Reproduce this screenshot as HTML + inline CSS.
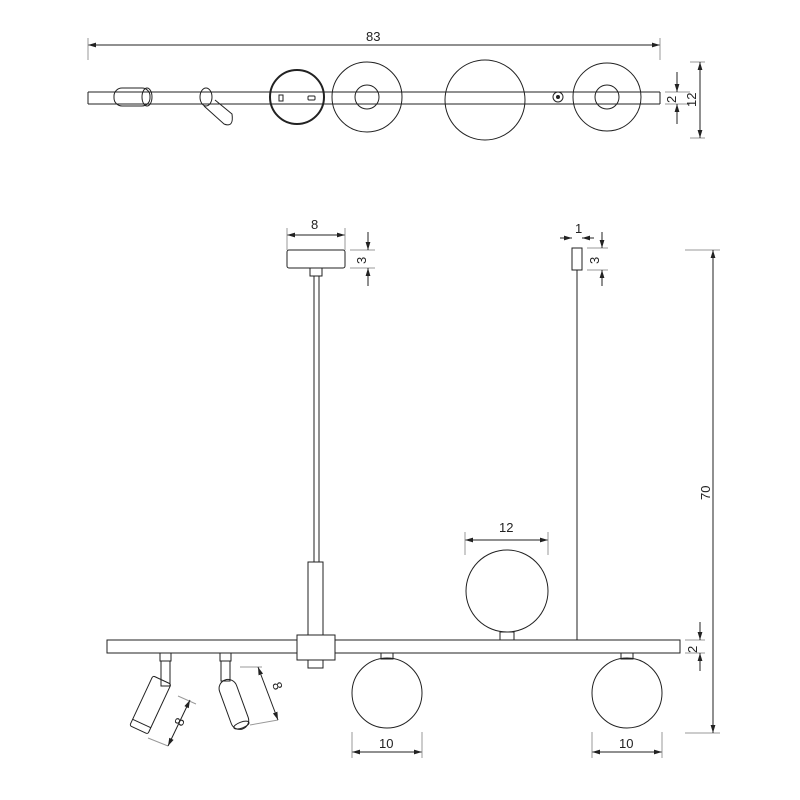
<!DOCTYPE html><html><head><style>body{margin:0;background:#fff}svg{display:block}text{font-family:"Liberation Sans",sans-serif;font-size:13px;fill:#222;stroke:none}</style></head><body>
<svg width="800" height="800" viewBox="0 0 800 800" fill="none" stroke="#222" stroke-width="1">
<defs><marker id="a" viewBox="0 0 10 10" refX="10" refY="5" markerWidth="8" markerHeight="8" orient="auto-start-reverse"><path d="M0,2L10,5L0,8z" fill="#222" stroke="none"/></marker></defs>
<line x1="88" y1="45" x2="660" y2="45" marker-start="url(#a)" marker-end="url(#a)"/>
<line x1="88" y1="38" x2="88" y2="60" stroke="#999"/><line x1="660" y1="38" x2="660" y2="60" stroke="#999"/>
<text x="366" y="41">83</text>
<circle cx="367" cy="97" r="35"/><circle cx="367" cy="97" r="12"/>
<circle cx="607" cy="97" r="34"/><circle cx="607" cy="97" r="12"/>
<circle cx="485" cy="100" r="40"/>
<circle cx="297" cy="97" r="27" stroke-width="2"/>
<line x1="88" y1="92" x2="660" y2="92"/><line x1="88" y1="104" x2="660" y2="104"/><line x1="88" y1="92" x2="88" y2="104"/><line x1="660" y1="92" x2="660" y2="104"/>
<rect x="279" y="95" width="4" height="6"/><rect x="308" y="96" width="7" height="4" rx="1"/>
<circle cx="558" cy="97" r="5"/><circle cx="558" cy="97" r="1.5" fill="#222"/>
<rect x="114" y="88" width="36" height="18" rx="8"/><ellipse cx="147" cy="97" rx="5" ry="9"/>
<ellipse cx="206" cy="97" rx="6" ry="9"/><path d="M204,106 L224,124 Q234,128 232,114 L215,100"/>
<line x1="665" y1="92" x2="690" y2="92" stroke="#999"/><line x1="665" y1="104" x2="690" y2="104" stroke="#999"/>
<line x1="677" y1="72" x2="677" y2="92" marker-end="url(#a)"/><line x1="677" y1="124" x2="677" y2="104" marker-end="url(#a)"/>
<text transform="translate(676,103) rotate(-90)">2</text>
<line x1="690" y1="62" x2="705" y2="62" stroke="#999"/><line x1="690" y1="138" x2="705" y2="138" stroke="#999"/>
<line x1="700" y1="62" x2="700" y2="138" marker-start="url(#a)" marker-end="url(#a)"/>
<text transform="translate(696,107) rotate(-90)">12</text>
<line x1="287" y1="235" x2="345" y2="235" marker-start="url(#a)" marker-end="url(#a)"/>
<line x1="287" y1="228" x2="287" y2="250" stroke="#999"/><line x1="345" y1="228" x2="345" y2="250" stroke="#999"/>
<text x="311" y="229">8</text>
<rect x="287" y="250" width="58" height="18" rx="2"/><rect x="310" y="268" width="12" height="8"/>
<line x1="350" y1="250" x2="375" y2="250" stroke="#999"/><line x1="350" y1="268" x2="375" y2="268" stroke="#999"/>
<line x1="368" y1="232" x2="368" y2="250" marker-end="url(#a)"/><line x1="368" y1="286" x2="368" y2="268" marker-end="url(#a)"/>
<text transform="translate(366,264) rotate(-90)">3</text>
<line x1="314" y1="276" x2="314" y2="562"/><line x1="319" y1="276" x2="319" y2="562"/>
<rect x="308" y="562" width="15" height="73"/>
<rect x="572" y="248" width="10" height="22"/><line x1="577" y1="270" x2="577" y2="640"/>
<line x1="560" y1="238" x2="572" y2="238" marker-end="url(#a)"/><line x1="594" y1="238" x2="582" y2="238" marker-end="url(#a)"/>
<text x="575" y="233">1</text>
<line x1="587" y1="248" x2="608" y2="248" stroke="#999"/><line x1="587" y1="270" x2="608" y2="270" stroke="#999"/>
<line x1="602" y1="232" x2="602" y2="248" marker-end="url(#a)"/><line x1="602" y1="286" x2="602" y2="270" marker-end="url(#a)"/>
<text transform="translate(599,264) rotate(-90)">3</text>
<line x1="685" y1="250" x2="720" y2="250" stroke="#999"/><line x1="685" y1="733" x2="720" y2="733" stroke="#999"/>
<line x1="713" y1="250" x2="713" y2="733" marker-start="url(#a)" marker-end="url(#a)"/>
<text transform="translate(710,500) rotate(-90)">70</text>
<line x1="465" y1="540" x2="548" y2="540" marker-start="url(#a)" marker-end="url(#a)"/>
<line x1="465" y1="532" x2="465" y2="555" stroke="#999"/><line x1="548" y1="532" x2="548" y2="555" stroke="#999"/>
<text x="499" y="532">12</text>
<circle cx="507" cy="591" r="41"/><rect x="500" y="632" width="14" height="8"/>
<rect x="107" y="640" width="573" height="13"/>
<rect x="297" y="635" width="38" height="25" fill="#fff"/><rect x="308" y="660" width="15" height="8"/>
<line x1="685" y1="640" x2="705" y2="640" stroke="#999"/><line x1="685" y1="653" x2="705" y2="653" stroke="#999"/>
<line x1="700" y1="622" x2="700" y2="640" marker-end="url(#a)"/><line x1="700" y1="671" x2="700" y2="653" marker-end="url(#a)"/>
<text transform="translate(697,653) rotate(-90)">2</text>
<rect x="381" y="653" width="12" height="6"/><circle cx="387" cy="693" r="35"/>
<rect x="621" y="653" width="12" height="6"/><circle cx="627" cy="693" r="35"/>
<line x1="352" y1="752" x2="422" y2="752" marker-start="url(#a)" marker-end="url(#a)"/>
<line x1="352" y1="732" x2="352" y2="758" stroke="#999"/><line x1="422" y1="732" x2="422" y2="758" stroke="#999"/>
<text x="379" y="748">10</text>
<line x1="592" y1="752" x2="662" y2="752" marker-start="url(#a)" marker-end="url(#a)"/>
<line x1="592" y1="732" x2="592" y2="758" stroke="#999"/><line x1="662" y1="732" x2="662" y2="758" stroke="#999"/>
<text x="619" y="748">10</text>
<rect x="160" y="653" width="11" height="8"/><rect x="161" y="661" width="9" height="25"/>
<g transform="translate(162,680) rotate(25)"><rect x="-10" y="0" width="20" height="55" rx="2"/><line x1="-10" y1="48" x2="10" y2="48"/></g>
<rect x="220" y="653" width="11" height="8"/><rect x="221" y="661" width="9" height="20"/>
<g transform="translate(225,680) rotate(-20)"><rect x="-9" y="0" width="18" height="52" rx="9"/><ellipse cx="0" cy="48" rx="8" ry="3"/></g>
<line x1="148" y1="738" x2="168" y2="746" stroke="#999"/><line x1="178" y1="696" x2="196" y2="704" stroke="#999"/>
<line x1="168" y1="746" x2="190" y2="700" marker-start="url(#a)" marker-end="url(#a)"/>
<text transform="translate(182,727) rotate(-65)">8</text>
<line x1="240" y1="667" x2="262" y2="667" stroke="#999"/><line x1="250" y1="725" x2="278" y2="720" stroke="#999"/>
<line x1="258" y1="667" x2="278" y2="720" marker-start="url(#a)" marker-end="url(#a)"/>
<text transform="translate(272,684) rotate(70)">8</text>
</svg></body></html>
